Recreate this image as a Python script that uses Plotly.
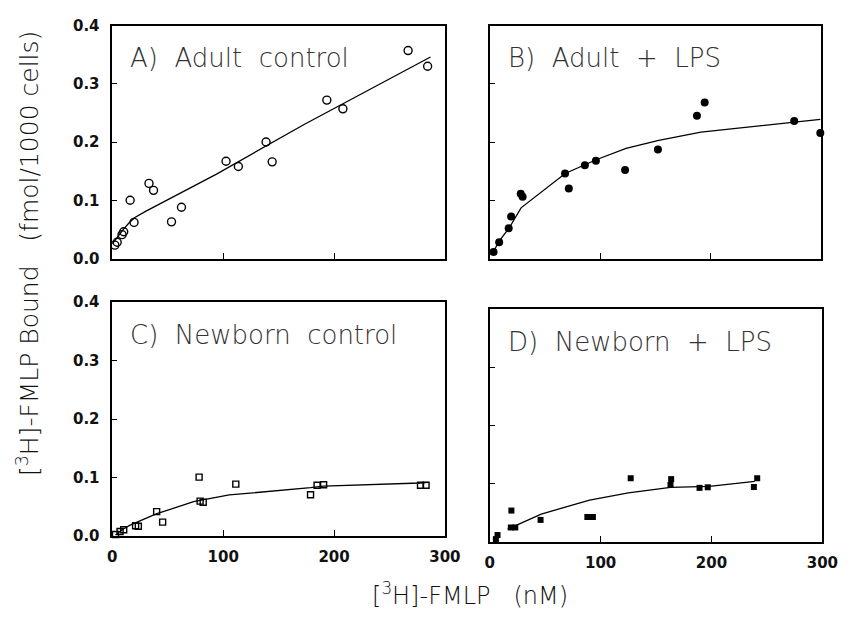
import plotly.graph_objects as go

# ---------------- data ----------------
x_ticks = [0, 100, 200, 300]
y_ticks = [0.0, 0.1, 0.2, 0.3, 0.4]
y_tick_text = ["0.0", "0.1", "0.2", "0.3", "0.4"]

panel_titles = ["A)\u00a0 Adult\u00a0 control", "B)\u00a0 Adult\u00a0 +\u00a0 LPS",
                "C)\u00a0 Newborn\u00a0 control", "D)\u00a0 Newborn\u00a0 +\u00a0 LPS"]

# A) Adult control (open circles)
a_x = [2.3, 4.4, 8.8, 10.3, 16.1, 19.6, 33.1, 37.2, 53.4, 62.4, 102.6, 113.7, 138.7, 144.2, 193.5, 208, 266.8, 284.4]
a_y = [0.023, 0.028, 0.041, 0.046, 0.100, 0.062, 0.129, 0.117, 0.063, 0.088, 0.167, 0.158, 0.200, 0.166, 0.272, 0.257, 0.357, 0.330]
a_fit_x = [0, 5, 10, 15, 20, 30, 50, 94, 173, 287]
a_fit_y = [0.025, 0.038, 0.050, 0.061, 0.070, 0.081, 0.101, 0.145, 0.230, 0.346]

# B) Adult + LPS (filled circles)
b_x = [3.4, 8.5, 17.1, 19.3, 28, 29.7, 68.1, 71.5, 86, 96, 122.4, 152.1, 187.4, 194.4, 275.4, 299]
b_y = [0.011, 0.028, 0.052, 0.072, 0.111, 0.106, 0.146, 0.120, 0.160, 0.168, 0.152, 0.187, 0.245, 0.268, 0.236, 0.2155]
b_fit_x = [3.4, 8.5, 17.4, 28.3, 68.2, 96.8, 123.3, 152.8, 191, 235, 275.4, 299]
b_fit_y = [0.012, 0.030, 0.052, 0.087, 0.146, 0.170, 0.189, 0.203, 0.217, 0.226, 0.235, 0.239]

# C) Newborn control (open squares)
c_x = [2.9, 7, 10.3, 21, 23.5, 40, 45.4, 78.3, 79.2, 82, 111.4, 178.8, 184.7, 190.6, 278, 283]
c_y = [0.003, 0.008, 0.011, 0.018, 0.017, 0.042, 0.024, 0.101, 0.060, 0.058, 0.089, 0.071, 0.087, 0.088, 0.087, 0.087]
c_fit_x = [2.9, 8.8, 16.1, 39.6, 73.3, 105.5, 178.8, 190.6, 277.6, 285]
c_fit_y = [0.002, 0.011, 0.019, 0.038, 0.059, 0.0705, 0.083, 0.0856, 0.091, 0.092]

# D) Newborn + LPS (filled squares)
d_x = [5.5, 7, 19.5, 19, 23, 45.8, 88, 93, 127.1, 163, 163.6, 189.2, 196.6, 238.2, 241.2]
d_y = [0.005, 0.012, 0.054, 0.025, 0.025, 0.038, 0.043, 0.043, 0.1095, 0.098, 0.108, 0.093, 0.094, 0.0945, 0.1095]
d_fit_x = [16, 46.4, 90, 125, 163, 198, 239]
d_fit_y = [0.022, 0.048, 0.072, 0.0845, 0.094, 0.0955, 0.104]

# ---------------- figure ----------------
W, H = 854, 619
fig = go.Figure()

def px_x(a, b):
    return [a / W, b / W]

def px_y(top, bottom):
    return [1 - bottom / H, 1 - top / H]

panels = [
    # xaxis, yaxis, xdomain, ydomain, show x labels, show y labels
    ("x", "y", px_x(110, 451), px_y(17, 257), False, True),
    ("x2", "y2", px_x(497, 837), px_y(17, 257), False, False),
    ("x3", "y3", px_x(110, 451), px_y(302, 543), True, True),
    ("x4", "y4", px_x(497, 838), px_y(309, 549), True, False),
]

series = [
    (a_x, a_y, a_fit_x, a_fit_y, dict(symbol="circle-open", size=8, color="black", line=dict(width=1.4, color="black"))),
    (b_x, b_y, b_fit_x, b_fit_y, dict(symbol="circle", size=8, color="black")),
    (c_x, c_y, c_fit_x, c_fit_y, dict(symbol="square-open", size=6, color="black", line=dict(width=1.4, color="black"))),
    (d_x, d_y, d_fit_x, d_fit_y, dict(symbol="square", size=6, color="black")),
]

tick_font = dict(family="DejaVu Sans", size=15, color="#111", weight="bold")

for i, ((xa, ya, xd, yd, showx, showy), (sx, sy, fx, fy, mk)) in enumerate(zip(panels, series)):
    fig.add_trace(go.Scatter(x=fx, y=fy, mode="lines", line=dict(color="black", width=1.3),
                             xaxis=xa, yaxis=ya, showlegend=False, hoverinfo="skip"))
    fig.add_trace(go.Scatter(x=sx, y=sy, mode="markers", marker=mk, cliponaxis=False,
                             xaxis=xa, yaxis=ya, showlegend=False))
    xkey = "xaxis" if xa == "x" else "xaxis" + xa[1:]
    ykey = "yaxis" if ya == "y" else "yaxis" + ya[1:]
    fig.update_layout(**{
        xkey: dict(domain=xd, anchor=ya, range=[0, 300], tickmode="array", tickvals=x_ticks,
                   ticktext=[str(v) for v in x_ticks], showticklabels=showx, ticks="inside",
                   ticklen=6, tickcolor="black", showline=True, linecolor="black", linewidth=1.5,
                   mirror=True, showgrid=False, zeroline=False, tickfont=tick_font,
                   ticklabelstandoff=6),
        ykey: dict(domain=yd, anchor=xa, range=[0, 0.4], tickmode="array", tickvals=y_ticks,
                   ticktext=y_tick_text, showticklabels=showy, ticks="inside", ticklen=5,
                   tickcolor="black", showline=True, linecolor="black", linewidth=1.5,
                   mirror=True, showgrid=False, zeroline=False, tickfont=tick_font,
                   ticklabelstandoff=8),
    })
    fig.add_annotation(text=panel_titles[i], xref=f"{xa} domain", yref=f"{ya} domain",
                       x=0.048, y=0.86, xanchor="left", yanchor="middle", showarrow=False,
                       font=dict(family="DejaVu Sans", size=26, color="#333", weight=300))

fig.add_annotation(text="[<sup>3</sup>H]-FMLP Bound\u00a0\u00a0\u00a0(fmol/1000 cells)",
                   xref="paper", yref="paper", x=24 / W, y=1 - 252 / H, textangle=-90,
                   xanchor="center", yanchor="middle", showarrow=False,
                   font=dict(family="DejaVu Sans", size=25, color="#111", weight=300))
fig.add_annotation(text="[<sup>3</sup>H]-FMLP\u00a0\u00a0\u00a0(nM)",
                   xref="paper", yref="paper", x=477 / W, y=1 - 603 / H,
                   xanchor="center", yanchor="middle", showarrow=False,
                   font=dict(family="DejaVu Sans", size=24, color="#111", weight=300))

fig.update_layout(width=W, height=H, margin=dict(l=0, r=0, t=0, b=0),
                  paper_bgcolor="white", plot_bgcolor="white")

fig.write_html("out.html")
